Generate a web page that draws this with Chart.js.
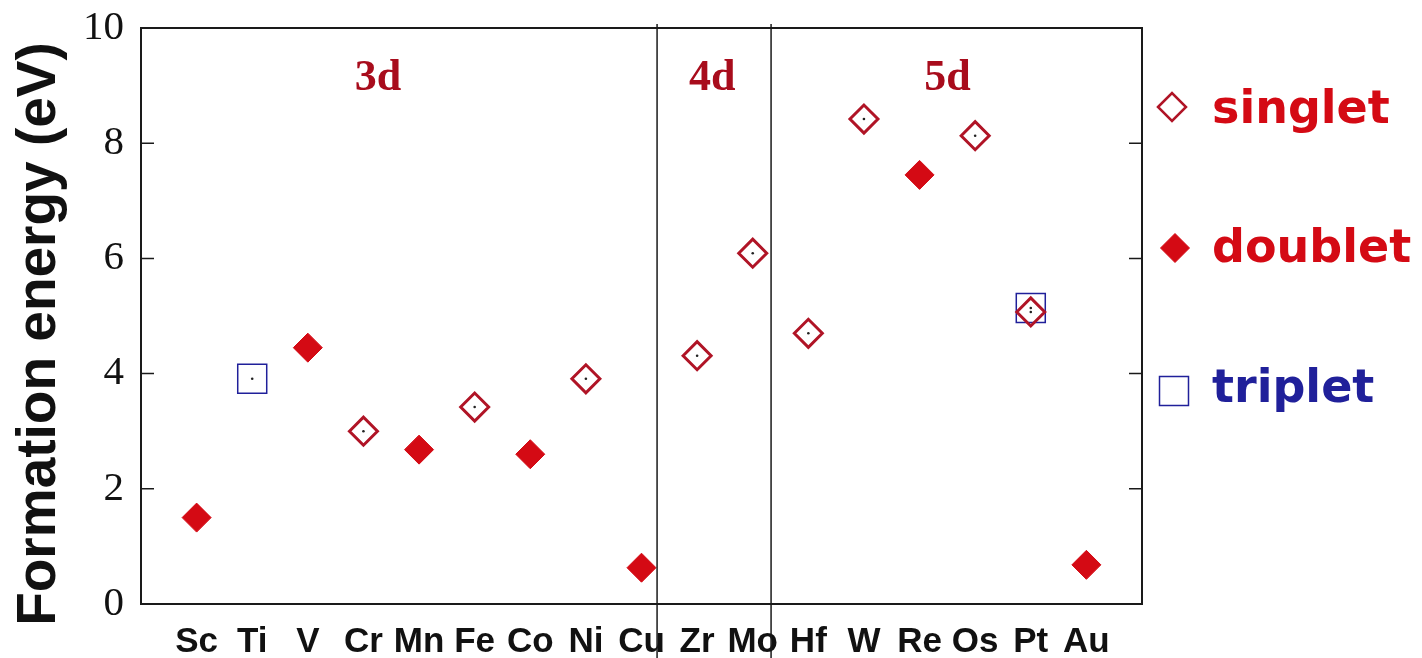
<!DOCTYPE html>
<html>
<head>
<meta charset="utf-8">
<script src="https://cdn.jsdelivr.net/npm/chart.js@4/dist/chart.umd.min.js"></script>
<style>
  html, body { margin: 0; padding: 0; background: #fff; }
  #wrap { width: 1422px; height: 658px; }
</style>
</head>
<body>
<div id="wrap"><canvas id="canvasSingle" width="1422" height="658"></canvas></div>
<script>
// element order along the x axis (position = index + 1)
const elements = ['Sc', 'Ti', 'V', 'Cr', 'Mn', 'Fe', 'Co', 'Ni', 'Cu', 'Zr', 'Mo', 'Hf', 'W', 'Re', 'Os', 'Pt', 'Au'];

// formation energies (eV), null = no point of that spin state
const singlet = [null, null, null, 3.0, null, 3.42, null, 3.91, null, 4.31, 6.09, 4.70, 8.42, null, 8.13, 5.07, null];
const doublet = [1.50, null, 4.45, null, 2.68, null, 2.60, null, 0.63, null, null, null, null, 7.45, null, null, 0.68];
const triplet = [null, 3.91, null, null, null, null, null, null, null, null, null, null, null, null, null, 5.14, null];

const yTicks = [0, 2, 4, 6, 8, 10];
const separators = [9.28, 11.33];      // 3d | 4d | 5d boundaries
const groupLabels = ['3d', '4d', '5d'];
const groupLabelX = [4.26, 10.27, 14.5];
const groupLabelY = 8.92;
const yTitle = 'Formation energy (eV)';

const darkRed = '#b01426';
const red = '#d40a14';
const blue = '#20209a';

function toPoints(arr) {
    let pts = [];
    arr.forEach((v, i) => {
        if (v !== null) pts.push({ x: i + 1, y: v });
    });
    return pts;
}

const legendItems = [
    { text: 'singlet', color: red, style: 'rectRot', fill: '#fff', stroke: darkRed, radius: 14, bw: 2.5, mx: 1172, my: 107, ty: 123 },
    { text: 'doublet', color: red, style: 'rectRot', fill: red, stroke: red, radius: 14.5, bw: 1, mx: 1175, my: 248, ty: 262 },
    { text: 'triplet', color: blue, style: 'rect', fill: '#fff', stroke: blue, radius: 20.5, bw: 1.5, mx: 1174, my: 391, ty: 402 }
];

const decorPlugin = {
    id: 'decor',
    afterDatasetsDraw(chart) {
        const ctx = chart.ctx;
        const a = chart.chartArea;
        const xs = chart.scales.x;
        const ys = chart.scales.y;
        ctx.save();
        // frame
        ctx.strokeStyle = '#1a1a1a';
        ctx.lineWidth = 2;
        ctx.strokeRect(a.left, a.top, a.right - a.left, a.bottom - a.top);
        // inward y ticks on both sides
        ctx.lineWidth = 1.5;
        yTicks.forEach(v => {
            if (v === 0 || v === 10) return;
            const py = ys.getPixelForValue(v);
            ctx.beginPath();
            ctx.moveTo(a.left, py); ctx.lineTo(a.left + 13, py);
            ctx.moveTo(a.right, py); ctx.lineTo(a.right - 13, py);
            ctx.stroke();
        });
        // group separators run down through the labels
        separators.forEach(v => {
            const px = xs.getPixelForValue(v);
            ctx.beginPath();
            ctx.moveTo(px, a.top - 4);
            ctx.lineTo(px, chart.height);
            ctx.stroke();
        });
        // 3d / 4d / 5d
        ctx.fillStyle = '#a80c1c';
        ctx.font = 'bold 44px "Liberation Serif", "Times New Roman", serif';
        ctx.textAlign = 'center';
        ctx.textBaseline = 'alphabetic';
        groupLabels.forEach((t, i) => {
            ctx.fillText(t, xs.getPixelForValue(groupLabelX[i]), ys.getPixelForValue(groupLabelY));
        });
        // y axis title
        ctx.save();
        ctx.translate(40, 334);
        ctx.rotate(-Math.PI / 2);
        ctx.fillStyle = '#111';
        ctx.textBaseline = 'middle';
        ctx.font = 'bold 55px "Liberation Sans", Arial, sans-serif';
        ctx.fillText(yTitle, 0, 0);
        ctx.restore();
        // legend
        ctx.textAlign = 'left';
        ctx.font = 'bold 46px "DejaVu Sans", Arial, sans-serif';
        legendItems.forEach(it => {
            ctx.fillStyle = it.fill;
            ctx.strokeStyle = it.stroke;
            ctx.lineWidth = it.bw;
            Chart.helpers.drawPoint(ctx, { pointStyle: it.style, radius: it.radius, borderWidth: it.bw, rotation: 0 }, it.mx, it.my);
            ctx.fillStyle = it.color;
            ctx.fillText(it.text, 1212, it.ty);
        });
        ctx.restore();
    }
};

const config = {
    type: 'scatter',
    data: {
        datasets: [
            {
                label: 'triplet',
                data: toPoints(triplet),
                order: 4,
                pointStyle: 'rect',
                pointRadius: 20.5,
                backgroundColor: '#fff',
                borderColor: blue,
                borderWidth: 1.5
            },
            {
                label: 'singlet',
                data: toPoints(singlet),
                order: 3,
                pointStyle: 'rectRot',
                pointRadius: 14,
                backgroundColor: 'rgba(255,255,255,0)',
                borderColor: darkRed,
                borderWidth: 3
            },
            {
                label: 'doublet',
                data: toPoints(doublet),
                order: 2,
                pointStyle: 'rectRot',
                pointRadius: 14.5,
                backgroundColor: red,
                borderColor: red,
                borderWidth: 1
            },
            {
                label: 'centre',
                data: toPoints(singlet).concat(toPoints(triplet)),
                order: 1,
                pointStyle: 'circle',
                pointRadius: 1.3,
                backgroundColor: '#222',
                borderWidth: 0
            }
        ]
    },
    options: {
        responsive: false,
        animation: false,
        events: [],
        layout: {
            padding: { top: 28, right: 280, left: 0, bottom: 0 }
        },
        plugins: {
            legend: { display: false },
            tooltip: { enabled: false }
        },
        scales: {
            x: {
                type: 'linear',
                min: 0,
                max: 18,
                afterBuildTicks: function (scale) {
                    scale.ticks = elements.map((e, i) => ({ value: i + 1 }));
                },
                afterFit: function (scale) {
                    scale.height = 54;
                    scale.paddingLeft = 0;
                    scale.paddingRight = 0;
                },
                grid: { display: false, drawTicks: false },
                border: { display: false },
                ticks: {
                    autoSkip: false,
                    maxRotation: 0,
                    padding: 17,
                    color: '#111',
                    font: { family: '"Liberation Sans", Arial, sans-serif', size: 35, weight: 'bold' },
                    callback: function (value) {
                        return elements[value - 1] || '';
                    }
                }
            },
            y: {
                min: 0,
                max: 10,
                afterBuildTicks: function (scale) {
                    scale.ticks = yTicks.map(v => ({ value: v }));
                },
                afterFit: function (scale) {
                    scale.width = 141;
                    scale.paddingTop = 0;
                    scale.paddingBottom = 0;
                },
                grid: { display: false, drawTicks: false },
                border: { display: false },
                ticks: {
                    padding: 17,
                    color: '#111',
                    font: { family: '"Liberation Serif", "Times New Roman", serif', size: 41 }
                }
            }
        }
    },
    plugins: [decorPlugin]
};

document.addEventListener('DOMContentLoaded', function () {
    new Chart(document.getElementById('canvasSingle'), config);
});
</script>
</body>
</html>
